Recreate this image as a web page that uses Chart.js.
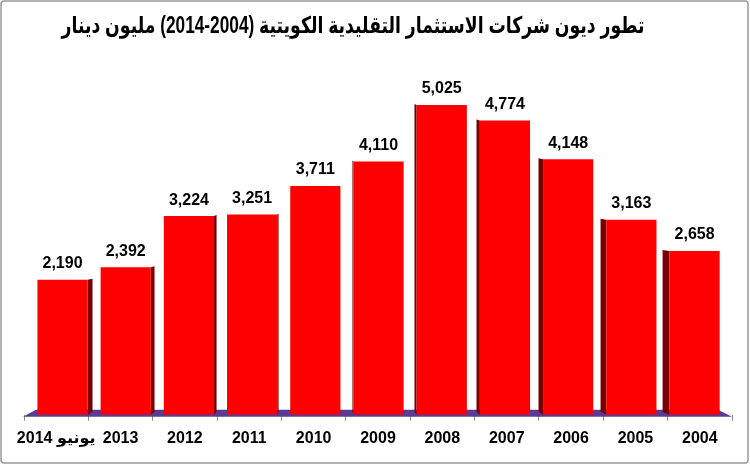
<!DOCTYPE html>
<html>
<head>
<meta charset="utf-8">
<script src="https://cdn.jsdelivr.net/npm/chart.js@4"></script>
<style>
  html, body { margin: 0; padding: 0; background: #fff; }
  #wrap { width: 750px; height: 466px; position: relative; }
</style>
</head>
<body>
<div id="wrap"><canvas id="debtChart" dir="rtl"></canvas></div>
<script>
// بيانات الرسم (مليون دينار)
const categories = ['يونيو 2014', '2013', '2012', '2011', '2010', '2009', '2008', '2007', '2006', '2005', '2004'];
const debtValues = [2190, 2392, 3224, 3251, 3711, 4110, 5025, 4774, 4148, 3163, 2658];
// the year range is isolated so it reads 2014-2004 left to right, as in the original
const chartTitle = 'تطور ديون شركات الاستثمار التقليدية الكويتية (\u20662014-2004\u2069) مليون دينار';

const FONT = '"Liberation Sans", Arial, "DejaVu Sans", sans-serif';

// 3D look: floor + dark side faces, perspective towards the middle
const bar3d = {
    id: 'bar3d',
    afterDatasetsUpdate(chart) {
        chart.getDatasetMeta(0).data.forEach(bar => {
            bar.x += (408 - bar.x) * 0.018;
        });
    },
    beforeDatasetsDraw(chart) {
        const { ctx, chartArea } = chart;
        const base = chartArea.bottom;
        ctx.save();
        // floor
        ctx.fillStyle = '#5b3a93';
        ctx.beginPath();
        ctx.moveTo(chartArea.left - 1, base + 2);
        ctx.lineTo(chartArea.left + 12, base - 5);
        ctx.lineTo(chartArea.right - 14, base - 5);
        ctx.lineTo(chartArea.right, base + 2);
        ctx.closePath();
        ctx.fill();

        // sides
        ctx.fillStyle = '#7a0000';
        chart.getDatasetMeta(0).data.forEach(bar => {
            const half = bar.width / 2;
            const s = (325 - bar.x) * 0.0186;
            if (Math.abs(s) < 0.5) return;
            const edge = s > 0 ? bar.x + half : bar.x - half;
            ctx.beginPath();
            ctx.moveTo(edge, bar.y);
            ctx.lineTo(edge + s, bar.y - 1);
            ctx.lineTo(edge + s, base - 3);
            ctx.lineTo(edge, base);
            ctx.closePath();
            ctx.fill();
        });
        ctx.restore();
    },
    afterDatasetsDraw(chart) {
        const ctx = chart.ctx;
        ctx.save();
        ctx.fillStyle = '#000';
        ctx.font = 'bold 16px ' + FONT;
        ctx.textAlign = 'center';
        ctx.textBaseline = 'middle';
        chart.getDatasetMeta(0).data.forEach((bar, i) => {
            ctx.fillText(debtValues[i].toLocaleString('en-US'), bar.x, bar.y - 16);
        });
        ctx.restore();
    },
    afterDraw(chart) {
        const ctx = chart.ctx;
        ctx.save();
        // title (squeezed like the Arial original)
        ctx.fillStyle = '#000';
        ctx.font = 'bold 23px ' + FONT;
        ctx.textAlign = 'center';
        ctx.textBaseline = 'middle';
        ctx.fillText(chartTitle, 353, 27, 583);
        // frame
        ctx.strokeStyle = '#9a9a9a';
        ctx.lineWidth = 1.5;
        ctx.beginPath();
        ctx.roundRect(1, 1, 747, 462, 3);
        ctx.stroke();
        ctx.restore();
    }
};

new Chart(document.getElementById('debtChart'), {
    type: 'bar',
    data: {
        labels: categories,
        datasets: [{
            data: debtValues,
            backgroundColor: '#ff0000',
            borderWidth: 0,
            categoryPercentage: 1,
            barPercentage: 0.78
        }]
    },
    options: {
        responsive: true,
        maintainAspectRatio: false,
        devicePixelRatio: 1,
        animation: false,
        layout: { padding: { left: 24, right: 18, top: 45, bottom: 10 } },
        plugins: {
            legend: { display: false },
            tooltip: { enabled: false },
            title: { display: false }
        },
        scales: {
            x: {
                offset: true,
                grid: {
                    display: true,
                    offset: true,
                    drawOnChartArea: false,
                    drawTicks: true,
                    tickLength: 6,
                    color: '#8a8a8a'
                },
                border: { display: false },
                ticks: {
                    color: '#000',
                    padding: 8,
                    autoSkip: false,
                    maxRotation: 0,
                    font: { family: FONT, size: 16, weight: 'bold' }
                }
            },
            y: {
                display: false,
                min: 0,
                max: 6000
            }
        }
    },
    plugins: [bar3d]
});
</script>
</body>
</html>
